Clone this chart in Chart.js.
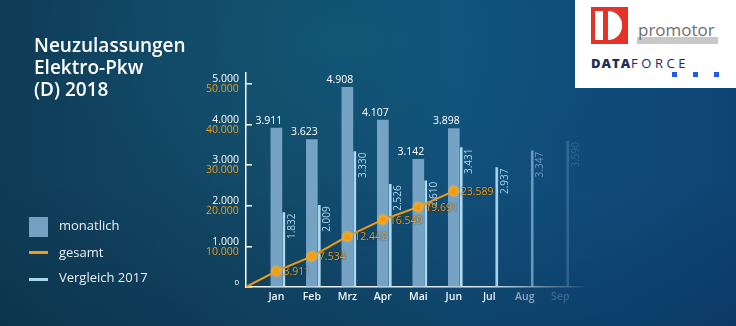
<!DOCTYPE html>
<html>
<head>
<meta charset="utf-8">
<script src="https://cdn.jsdelivr.net/npm/chart.js@4.4.1/dist/chart.umd.min.js"></script>
<style>
html, body { margin: 0; padding: 0; }
body {
    width: 736px; height: 326px; overflow: hidden; position: relative;
    font-family: "Open Sans", sans-serif;
    background:
        radial-gradient(ellipse 420px 240px at 330px 40px, rgba(18,95,122,0.45), rgba(18,95,122,0) 70%),
        linear-gradient(180deg, rgba(0,0,0,0) 55%, rgba(0,12,35,0.18) 100%),
        linear-gradient(90deg, #0f3c57 0%, #124a68 35%, #11507a 62%, #0f4a7a 85%, #0e4474 100%);
}
#chart { position: absolute; left: 0; top: 0; }
.title {
    position: absolute; left: 34px; top: 34px;
    color: #fff; font-size: 19px; font-weight: 600; line-height: 22px;
}
.leg { position: absolute; }
.leg-text { position: absolute; left: 59px; color: #e8eff4; font-size: 13px; line-height: 1; white-space: nowrap; }
.logo { position: absolute; left: 575px; top: 0; width: 161px; height: 88px; background: #fff; z-index: 2; }
.logo div { position: absolute; }
.pm-mark { left: 16px; top: 7px; width: 37px; height: 37px; background: #e5332a; }
.pm-bar { left: 4px; top: 4px; width: 8px; height: 29px; background: #fff; }
.pm-d { left: 17px; top: 4px; width: 14px; height: 29px; background: #fff; border-radius: 0 15px 15px 0; }
.pm-under { left: 62px; top: 37px; width: 81px; height: 7px; background: #c8c8c8; }
.pm-word { left: 63px; top: 21px; font-size: 17px; line-height: 1; color: #6e6e6e; font-weight: 500; }
.df { left: 16px; top: 56.5px; font-size: 13px; line-height: 1; color: #1c2d5c; white-space: nowrap; }
.df b { font-weight: 800; letter-spacing: 1px; }
.df span { letter-spacing: 3.5px; }
.sq { top: 72px; width: 5px; height: 5px; background: #1f5bef; }
</style>
</head>
<body>
<canvas id="chart" width="736" height="326"></canvas>

<div class="title">Neuzulassungen<br>Elektro-Pkw<br>(D) 2018</div>

<div class="leg" style="left:29px;top:216.5px;width:19px;height:20px;background:rgba(130,172,205,0.9)"></div>
<div class="leg-text" style="top:219px">monatlich</div>
<div class="leg" style="left:29px;top:251px;width:19px;height:3px;background:#f39c12"></div>
<div class="leg-text" style="top:246px">gesamt</div>
<div class="leg" style="left:29px;top:278px;width:19px;height:3px;background:#a9d7ef"></div>
<div class="leg-text" style="top:271px">Vergleich 2017</div>

<div class="logo">
    <div class="pm-mark"><div class="pm-bar"></div><div class="pm-d"></div></div>
    <div class="pm-under"></div>
    <div class="pm-word">promotor</div>
    <div class="df"><b>DATA</b><span>FORCE</span></div>
    <div class="sq" style="left:97px"></div>
    <div class="sq" style="left:118px"></div>
    <div class="sq" style="left:139px"></div>
</div>

<script>
// Daten
const months = ['Jan', 'Feb', 'Mrz', 'Apr', 'Mai', 'Jun', 'Jul', 'Aug', 'Sep'];
const monthly2018 = [3911, 3623, 4908, 4107, 3142, 3898];
const total2018 = [3911, 7534, 12442, 16549, 19691, 23589];
const compare2017 = [1832, 2009, 3330, 2526, 2610, 3431, 2937, 3347, 3590];
const monthlyTicks = [0, 1000, 2000, 3000, 4000, 5000];
const totalTicks = [10000, 20000, 30000, 40000, 50000];

// Darstellung
const fade = [1, 1, 1, 1, 1, 1, 0.95, 0.55, 0.2];
const xStart = 0.144, xEnd = 9.64;
const cmpShift = 0.21;

const fmt = v => String(v).replace(/\B(?=(\d{3})+(?!\d))/g, '.');

const ctx = document.getElementById('chart').getContext('2d');

const axisFade = ctx.createLinearGradient(246, 0, 590, 0);
axisFade.addColorStop(0, 'rgba(255,255,255,0.95)');
axisFade.addColorStop(0.7, 'rgba(255,255,255,0.85)');
axisFade.addColorStop(1, 'rgba(255,255,255,0)');

const valueLabels = {
    id: 'valueLabels',
    afterDatasetsDraw(chart) {
        const c = chart.ctx;
        const line = chart.getDatasetMeta(0);
        const bars = chart.getDatasetMeta(1);
        const cmp = chart.getDatasetMeta(2);
        c.save();
        c.font = '500 10.5px "Open Sans"';

        // Werte über den Monatssäulen
        c.fillStyle = '#ffffff';
        c.textAlign = 'right';
        c.textBaseline = 'bottom';
        bars.data.forEach((b, i) => {
            c.fillText(fmt(monthly2018[i]), b.x + b.width / 2 + 0.5, b.y - 2);
        });

        // Vergleich 2017, senkrecht
        c.font = '500 10px "Open Sans"';
        cmp.data.forEach((b, i) => {
            c.save();
            c.translate(b.x + 8, b.y + 1);
            c.rotate(-Math.PI / 2);
            c.textAlign = 'right';
            c.textBaseline = 'middle';
            c.fillStyle = 'rgba(172,214,238,' + fade[i] + ')';
            c.fillText(fmt(compare2017[i]), 0, 0);
            c.restore();
        });

        // Gesamtwerte an der Linie
        c.font = '500 10.5px "Open Sans"';
        c.textAlign = 'left';
        c.textBaseline = 'middle';
        c.fillStyle = '#f39c12';
        c.shadowColor = 'rgba(0,20,40,0.7)';
        c.shadowBlur = 2;
        line.data.forEach((p, i) => {
            if (i === 0) return;
            c.fillText(fmt(total2018[i - 1]), p.x + 7, p.y + 1);
        });
        c.restore();
    }
};

new Chart(ctx, {
    type: 'bar',
    data: {
        datasets: [{
            type: 'line',
            label: 'gesamt',
            yAxisID: 'y2',
            data: [{x: xStart, y: 0}].concat(total2018.map((v, i) => ({x: i + 1, y: v}))),
            borderColor: '#f39c12',
            borderWidth: 2,
            pointRadius: c => c.dataIndex === 0 ? 0 : 4.5,
            pointBackgroundColor: '#f39c12',
            pointBorderColor: 'rgba(250,175,40,0.5)',
            pointBorderWidth: 3,
            tension: 0,
            order: 0
        }, {
            label: 'monatlich',
            yAxisID: 'y',
            data: monthly2018.map((v, i) => ({x: i + 1, y: v})),
            backgroundColor: 'rgba(130,172,205,0.9)',
            barThickness: 11,
            grouped: false,
            order: 1
        }, {
            label: 'Vergleich 2017',
            yAxisID: 'y',
            data: compare2017.map((v, i) => ({x: i + 1 + cmpShift, y: v})),
            backgroundColor: compare2017.map((v, i) => 'rgba(172,216,240,' + fade[i] + ')'),
            barThickness: 2,
            grouped: false,
            order: 2
        }]
    },
    options: {
        responsive: false,
        animation: false,
        layout: {padding: {top: 72.7, right: 153, bottom: 0, left: 0}},
        plugins: {legend: {display: false}, tooltip: {enabled: false}},
        scales: {
            x: {
                type: 'linear',
                offset: false,
                min: xStart,
                max: xEnd,
                afterBuildTicks: s => { s.ticks = months.map((m, i) => ({value: i + 1})); },
                afterFit: s => { s.height = 39; },
                grid: {display: false, drawTicks: false, offset: false},
                border: {color: axisFade, width: 1.5},
                ticks: {
                    autoSkip: false,
                    maxRotation: 0,
                    padding: 4,
                    font: {family: '"Open Sans"', size: 10.5, weight: '600'},
                    color: c => 'rgba(238,244,248,' + fade[c.index] + ')',
                    callback: v => months[v - 1]
                }
            },
            y: {
                min: 0,
                max: 5270,
                weight: 1,
                afterBuildTicks: s => { s.ticks = monthlyTicks.map(v => ({value: v})); },
                afterFit: s => { s.width = 246; },
                grid: {drawOnChartArea: false, drawTicks: true, tickLength: -6, color: '#ffffff', lineWidth: 1.5},
                border: {color: '#ffffff', width: 1.5},
                ticks: {
                    padding: 13,
                    labelOffset: -4.5,
                    color: '#ffffff',
                    font: c => ({family: '"Open Sans"', size: c.tick && c.tick.value === 0 ? 8 : 10.5, weight: '500'}),
                    callback: v => fmt(v)
                }
            },
            y2: {
                position: 'left',
                min: 0,
                max: 52700,
                weight: 0,
                afterBuildTicks: s => { s.ticks = totalTicks.map(v => ({value: v})); },
                afterFit: s => { s.width = 0; },
                grid: {display: false, drawTicks: false},
                border: {display: false},
                ticks: {
                    mirror: true,
                    crossAlign: 'far',
                    padding: -40,
                    labelOffset: 5.5,
                    color: '#f39c12',
                    font: {family: '"Open Sans"', size: 10.5, weight: '500'},
                    callback: v => fmt(v)
                }
            }
        }
    },
    plugins: [valueLabels]
});
</script>
</body>
</html>
